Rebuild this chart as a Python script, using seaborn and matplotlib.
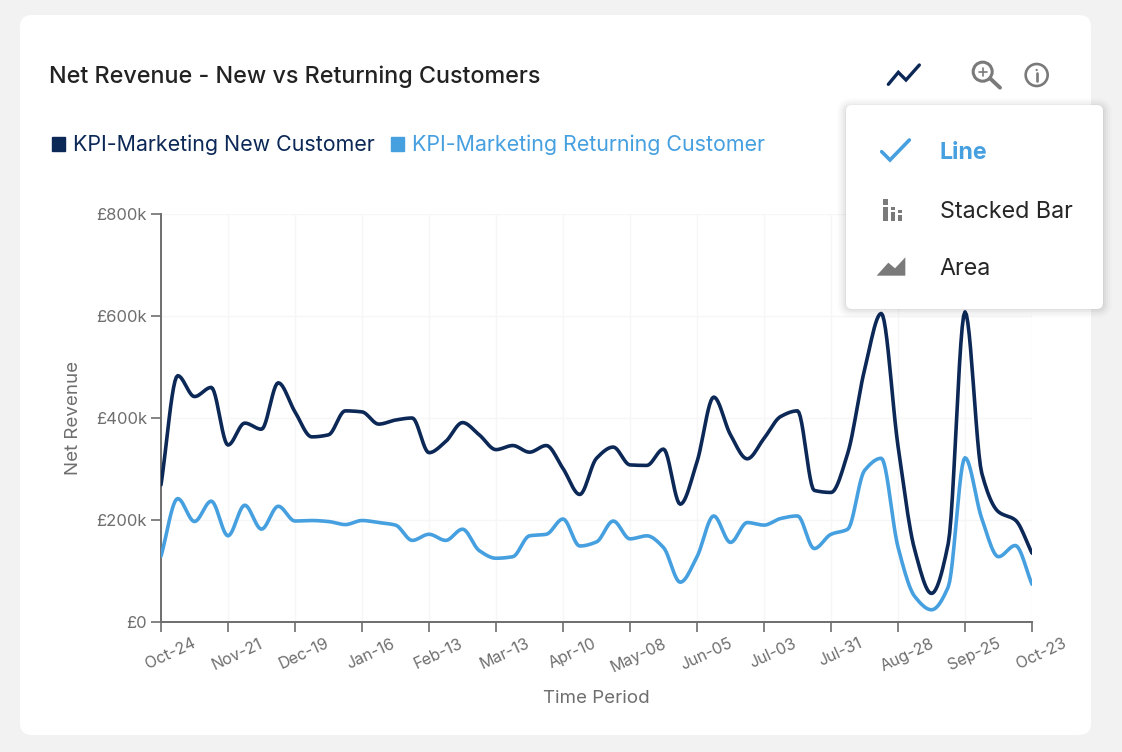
import numpy as np
import pandas as pd
import seaborn as sns
import matplotlib.pyplot as plt
from matplotlib.patches import FancyBboxPatch, Rectangle, Circle, Polygon, Patch
from matplotlib.transforms import ScaledTranslation

# values, one per week (in thousands)
new_customer = [269, 483, 442, 460, 347, 390, 378, 469, 412, 363, 367, 414, 412, 388, 396, 400, 332, 354,
                391, 367, 338, 346, 333, 346, 301, 250, 321, 343, 308, 307, 339, 231, 314, 441, 367, 320,
                360, 403, 414, 258, 254, 331, 494, 605, 345, 141, 56, 154, 608, 292, 216, 200, 135]
returning_customer = [129, 242, 197, 237, 169, 229, 182, 227, 198, 199, 197, 191, 199, 195, 190, 160, 172, 160,
                      182, 140, 125, 128, 169, 172, 202, 149, 157, 198, 163, 169, 146, 78, 128, 208, 156, 195,
                      190, 203, 208, 144, 172, 182, 297, 321, 147, 50, 24, 69, 322, 203, 128, 150, 74]
tick_labels = ['Oct-24', 'Nov-21', 'Dec-19', 'Jan-16', 'Feb-13', 'Mar-13', 'Apr-10',
               'May-08', 'Jun-05', 'Jul-03', 'Jul-31', 'Aug-28', 'Sep-25', 'Oct-23']
y_ticks = [0, 200, 400, 600, 800]
y_labels = ['£0', '£200k', '£400k', '£600k', '£800k']
series_names = ['KPI-Marketing New Customer', 'KPI-Marketing Returning Customer']

NAVY = '#0c2857'
BLUE = '#46a0e0'
GREY = '#6e6e6e'
W, H = 1122, 752


# the original draws its lines with a monotone curve, so do the same between the weekly values
def monotone_curve(y, steps=12):
    y = np.asarray(y, dtype=float)
    d = np.diff(y)
    m = np.zeros(len(y))
    m[0], m[-1] = d[0], d[-1]
    for i in range(1, len(y) - 1):
        if d[i - 1] * d[i] > 0:
            m[i] = 2 * d[i - 1] * d[i] / (d[i - 1] + d[i])
    xs, ys = [], []
    for i in range(len(d)):
        t = np.linspace(0, 1, steps, endpoint=False)
        ys.extend((2*t**3 - 3*t**2 + 1)*y[i] + (t**3 - 2*t**2 + t)*m[i]
                  + (-2*t**3 + 3*t**2)*y[i + 1] + (t**3 - t**2)*m[i + 1])
        xs.extend(i + t)
    xs.append(len(y) - 1)
    ys.append(y[-1])
    return xs, ys


frames = []
for name, vals in zip(series_names, [new_customer, returning_customer]):
    xs, ys = monotone_curve(vals)
    frames.append(pd.DataFrame({'week': xs, 'revenue': ys, 'series': name}))
df = pd.concat(frames)

sns.set_theme(style='white')
plt.rcParams['font.family'] = ['Inter', 'DejaVu Sans']

fig = plt.figure(figsize=(W / 100, H / 100), dpi=100, facecolor='#f2f2f2')

# background card, in pixel coordinates
bg = fig.add_axes([0, 0, 1, 1], zorder=0)
bg.set_xlim(0, W)
bg.set_ylim(H, 0)
bg.axis('off')
bg.add_patch(FancyBboxPatch((20, 15), 1071, 720, boxstyle='round,pad=0,rounding_size=12',
                            fc='white', ec='none'))

# chart
ax = fig.add_axes([161 / W, 1 - 622 / H, 871 / W, 408 / H], zorder=1)
ax.patch.set_alpha(0)
sns.lineplot(data=df, x='week', y='revenue', hue='series', palette=[NAVY, BLUE],
             estimator=None, linewidth=2.6, legend=False, ax=ax, zorder=3)
ax.set_xlim(0, 52)
ax.set_ylim(0, 800)
ax.set_xticks(range(0, 53, 4))
ax.set_xticklabels(tick_labels, rotation=25, ha='center', fontsize=11.5, color=GREY)
ax.set_yticks(y_ticks)
ax.set_yticklabels(y_labels, fontsize=12, color=GREY)
ax.tick_params(axis='both', length=7, width=1.2, color=GREY, pad=3, bottom=True, left=True)
# labels sit a little right of their ticks (has to come after tick_params, which resets transforms)
shift = ScaledTranslation(9 / 100, 0, fig.dpi_scale_trans)
for lab in ax.get_xticklabels():
    lab.set_transform(lab.get_transform() + shift)
ax.grid(True, color='#f6f6f6', linewidth=1)
ax.set_axisbelow(True)
for s in ['top', 'right']:
    ax.spines[s].set_visible(False)
for s in ['left', 'bottom']:
    ax.spines[s].set_color(GREY)
    ax.spines[s].set_linewidth(1.4)
ax.set_xlabel('Time Period', fontsize=13.5, color=GREY, labelpad=11)
ax.set_ylabel('Net Revenue', fontsize=13.5, color=GREY, labelpad=10)

# title and legend
fig.text(49 / W, 1 - 77 / H, 'Net Revenue - New vs Returning Customers', fontsize=16.8,
         fontweight='medium', color='#222222', va='center', ha='left')
handles = [Patch(color=NAVY, label=series_names[0]), Patch(color=BLUE, label=series_names[1])]
fig.legend(handles=handles, ncol=2, loc='center left', bbox_to_anchor=(52 / W, 1 - 145 / H),
           frameon=False, fontsize=15.42, labelcolor=[NAVY, BLUE], handlelength=0.6, handleheight=0.6,
           handletextpad=0.36, columnspacing=0.8, borderpad=0, borderaxespad=0)

# toolbar icons and the open menu sit above the chart
top = fig.add_axes([0, 0, 1, 1], zorder=2)
top.set_xlim(0, W)
top.set_ylim(H, 0)
top.axis('off')
top.patch.set_alpha(0)


def z(x, y):
    # position in the 3x crop of the top right corner
    return 840 + x / 3, 40 + y / 3


ICON = '#7a7a7a'
top.plot(*zip(*[z(145, 133), z(175, 97), z(198, 120), z(238, 75)]), color=NAVY, lw=2.4, solid_joinstyle='miter')
top.add_patch(Circle(z(428, 95), 9.5, fc='none', ec=ICON, lw=2.2))
top.plot(*zip(*[z(450, 115), z(480, 143)]), color=ICON, lw=2.8)
top.plot(*zip(*[z(416, 95), z(440, 95)]), color=ICON, lw=1.2)
top.plot(*zip(*[z(428, 83), z(428, 107)]), color=ICON, lw=1.2)
top.add_patch(Circle(z(590, 105), 11, fc='none', ec=ICON, lw=1.9))
top.plot(*zip(*[z(590, 100), z(590, 123)]), color=ICON, lw=1.9)
top.add_patch(Circle(z(590, 90), 1.1, fc=ICON, ec='none'))

for off, a in [(9, 0.012), (7, 0.018), (5, 0.025), (3, 0.03), (1, 0.04)]:
    top.add_patch(FancyBboxPatch((846 - off, 107 - off), 257 + 2 * off, 202 + 2 * off,
                                 boxstyle=f'round,pad=0,rounding_size={6 + off}', fc='black', alpha=a, ec='none'))
top.add_patch(FancyBboxPatch((846, 105), 257, 204, boxstyle='round,pad=0,rounding_size=6', fc='white', ec='none'))

top.plot(*zip(*[z(125, 335), z(150, 360), z(208, 300)]), color=BLUE, lw=2.6, solid_joinstyle='miter')
for x0, y0, y1 in [(130, 478, 495), (130, 500, 542), (152, 500, 510), (152, 516, 542),
                   (173, 510, 520), (173, 525, 542)]:
    top.add_patch(Rectangle(z(x0, y0), 13 / 3, (y1 - y0) / 3, fc=ICON, ec='none'))
top.add_patch(Polygon([z(110, 707), z(145, 668), z(165, 685), z(196, 652), z(196, 707)], fc=ICON, ec='none'))

top.text(940, 152.7, 'Line', fontsize=16.7, fontweight='bold', color=BLUE, va='center')
top.text(940, 211.5, 'Stacked Bar', fontsize=16.8, color='#262626', va='center')
top.text(939.5, 268.7, 'Area', fontsize=16.7, color='#262626', va='center')

fig.savefig('out.png', dpi=100, facecolor=fig.get_facecolor())
